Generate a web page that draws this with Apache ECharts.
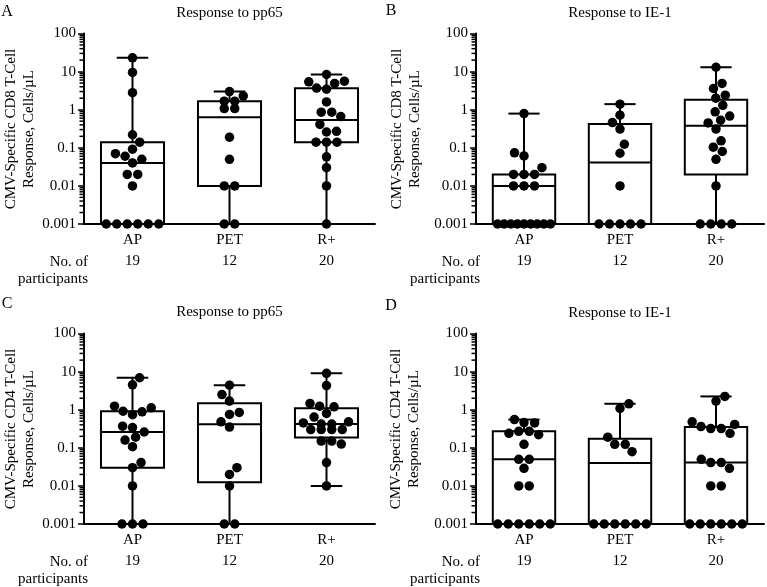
<!DOCTYPE html>
<html><head><meta charset="utf-8">
<script src="https://cdn.jsdelivr.net/npm/echarts@6/dist/echarts.min.js"></script>
<style>html,body{margin:0;padding:0;background:#fff}#c{width:767px;height:587px}</style>
</head><body><div id="c"></div>
<script>
// ---------- DATA ----------
const categories = ['AP', 'PET', 'R+'];
const yTickValues = [0.001, 0.01, 0.1, 1, 10, 100];
const yTickLabels = ['0.001', '0.01', '0.1', '1', '10', '100'];
const panelLetters = ['A', 'B', 'C', 'D'];
const panelTitles = ['Response to pp65', 'Response to IE-1', 'Response to pp65', 'Response to IE-1'];
const yAxisNames = [
  'CMV-Specific CD8 T-Cell\nResponse, Cells/\u00b5L',
  'CMV-Specific CD8 T-Cell\nResponse, Cells/\u00b5L',
  'CMV-Specific CD4 T-Cell\nResponse, Cells/\u00b5L',
  'CMV-Specific CD4 T-Cell\nResponse, Cells/\u00b5L'
];
const countCaption = 'No. of\nparticipants';

// Panel A: CD8, pp65
const cd8pp65_AP  = [23, 9.5, 2.8, 0.22, 0.14, 0.092, 0.07, 0.06, 0.05, 0.04, 0.02, 0.02, 0.01, 0.001, 0.001, 0.001, 0.001, 0.001, 0.001];
const cd8pp65_PET = [3.0, 2.3, 1.67, 1.67, 1.07, 1.07, 0.19, 0.05, 0.01, 0.01, 0.001, 0.001];
const cd8pp65_Rp  = [8.4, 5.6, 5.4, 4.9, 3.7, 3.45, 1.6, 0.86, 0.86, 0.66, 0.41, 0.27, 0.26, 0.14, 0.14, 0.14, 0.058, 0.03, 0.01, 0.001];
// Panel B: CD8, IE-1
const cd8ie1_AP  = [0.79, 0.074, 0.061, 0.03, 0.02, 0.02, 0.02, 0.01, 0.01, 0.01, 0.001, 0.001, 0.001, 0.001, 0.001, 0.001, 0.001, 0.001, 0.001];
const cd8ie1_PET = [1.4, 0.72, 0.46, 0.31, 0.124, 0.072, 0.01, 0.001, 0.001, 0.001, 0.001, 0.001];
const cd8ie1_Rp  = [13, 4.9, 3.6, 2.4, 2.0, 1.3, 0.88, 0.68, 0.53, 0.45, 0.31, 0.152, 0.104, 0.08, 0.05, 0.01, 0.001, 0.001, 0.001, 0.001];
// Panel C: CD4, pp65
const cd4pp65_AP  = [6.9, 4.5, 1.24, 1.12, 0.91, 0.88, 0.74, 0.37, 0.34, 0.26, 0.19, 0.16, 0.107, 0.041, 0.03, 0.01, 0.001, 0.001, 0.001];
const cd4pp65_PET = [4.4, 2.5, 1.68, 0.85, 0.75, 0.48, 0.35, 0.03, 0.02, 0.01, 0.001, 0.001];
const cd4pp65_Rp  = [9.0, 4.3, 1.46, 1.24, 1.19, 0.80, 0.64, 0.48, 0.45, 0.42, 0.42, 0.30, 0.30, 0.30, 0.30, 0.15, 0.15, 0.125, 0.041, 0.01];
// Panel D: CD4, IE-1
const cd4ie1_AP  = [0.55, 0.46, 0.45, 0.27, 0.27, 0.24, 0.22, 0.123, 0.05, 0.05, 0.029, 0.01, 0.01, 0.001, 0.001, 0.001, 0.001, 0.001, 0.001];
const cd4ie1_PET = [1.43, 1.08, 0.19, 0.123, 0.123, 0.079, 0.001, 0.001, 0.001, 0.001, 0.001, 0.001];
const cd4ie1_Rp  = [2.23, 1.68, 0.48, 0.41, 0.36, 0.32, 0.32, 0.24, 0.05, 0.041, 0.041, 0.029, 0.01, 0.01, 0.001, 0.001, 0.001, 0.001, 0.001, 0.001];

const panelGroups = [
  [cd8pp65_AP, cd8pp65_PET, cd8pp65_Rp],
  [cd8ie1_AP, cd8ie1_PET, cd8ie1_Rp],
  [cd4pp65_AP, cd4pp65_PET, cd4pp65_Rp],
  [cd4ie1_AP, cd4ie1_PET, cd4ie1_Rp]
];

// ---------- LAYOUT / STYLE ----------
const FONT = '"Liberation Serif", "DejaVu Serif", serif';
const INK = '#000';
const grids = [
  {left: 84, top: 33.5, width: 291, height: 190.5},
  {left: 476, top: 33.5, width: 288, height: 190.5},
  {left: 84, top: 333.5, width: 291, height: 190.5},
  {left: 476, top: 333.5, width: 288, height: 190.5}
];
const letterPos = [[7, 12], [391, 11], [7, 304], [391, 306]];
const titlePos = [[229.5, 13], [620, 13], [229.5, 312], [620, 313]];
const yNamePos = [[20, 129], [406, 129], [20, 429], [405, 429]];
const BOX_FRAC = 0.65, CAP_FRAC = 0.5, DOT_R = 4.75, SWARM_D = 10, ROW_S = 10.5;

// GraphPad-style quantile ((n+1)p, linear interpolation)
function quantile(sorted, p) {
  const n = sorted.length, h = (n + 1) * p, lo = Math.floor(h);
  if (lo < 1) return sorted[0];
  if (lo >= n) return sorted[n - 1];
  return sorted[lo - 1] + (h - lo) * (sorted[lo] - sorted[lo - 1]);
}
function boxStats(vals) {
  const s = vals.slice().sort((a, b) => a - b);
  return [s[0], quantile(s, 0.25), quantile(s, 0.5), quantile(s, 0.75), s[s.length - 1]];
}

// beeswarm in pixel space
function swarm(vals, ys, boxW) {
  const n = vals.length, xs = new Array(n).fill(null), placed = [];
  const byVal = new Map();
  vals.forEach((v, i) => { if (!byVal.has(v)) byVal.set(v, []); byVal.get(v).push(i); });
  byVal.forEach(idx => {
    if (idx.length < 2) return;
    const k = idx.length, s = Math.min(ROW_S, (boxW - 2 * DOT_R) / (k - 1));
    idx.forEach((i, j) => { xs[i] = (j - (k - 1) / 2) * s; placed.push([xs[i], ys[i]]); });
  });
  let side = 1;
  const singles = vals.map((v, i) => i).filter(i => xs[i] === null).sort((a, b) => vals[a] - vals[b]);
  singles.forEach(i => {
    const y = ys[i], cands = [0];
    placed.forEach(q => {
      const dy = Math.abs(q[1] - y);
      if (dy < SWARM_D) { const s = Math.sqrt(SWARM_D * SWARM_D - dy * dy); cands.push(q[0] + s, q[0] - s); }
    });
    cands.sort((a, b) => (Math.abs(a) - Math.abs(b)) || (b - a) * side);
    let best = null;
    for (const c of cands) {
      if (placed.every(q => Math.hypot(q[0] - c, q[1] - y) >= SWARM_D - 0.01)) { best = c; break; }
    }
    if (best === null) best = 0;
    if (best !== 0) side = best > 0 ? -1 : 1;
    xs[i] = best; placed.push([best, y]);
  });
  return xs;
}

// log minor tick values (2..9 x 10^k)
const minorVals = [];
for (let e = -3; e < 2; e++) for (let m = 2; m <= 9; m++) minorVals.push(+(m * Math.pow(10, e)).toPrecision(3));

const xAxes = [], yAxes = [], series = [], graphics = [];
panelGroups.forEach((groups, pi) => {
  const counts = groups.map(g => g.length);
  xAxes.push({
    type: 'category', gridIndex: pi, data: categories,
    axisLine: {onZero: false, lineStyle: {color: INK, width: 2}},
    axisTick: {alignWithLabel: true, length: 4, lineStyle: {color: INK, width: 1.5}},
    axisLabel: {interval: 0, color: INK, fontFamily: FONT, fontSize: 15, lineHeight: 21, margin: 6,
      formatter: (v, i) => v + '\n' + counts[i]},
    splitLine: {show: false}
  });
  yAxes.push({
    type: 'log', logBase: 10, gridIndex: pi, min: 0.001, max: 100,
    axisLine: {show: true, lineStyle: {color: INK, width: 2}},
    axisTick: {show: true, length: 6, lineStyle: {color: INK, width: 1.5}},
    axisLabel: {color: INK, fontFamily: FONT, fontSize: 15, margin: 8,
      formatter: v => {
        const k = yTickValues.findIndex(t => Math.abs(Math.log10(t) - Math.log10(v)) < 1e-6);
        return k >= 0 ? yTickLabels[k] : '';
      }},
    splitLine: {show: false}, minorTick: {show: false}
  });
  // log minor ticks, outside the y axis line
  series.push({
    type: 'custom', xAxisIndex: pi, yAxisIndex: pi, clip: false, silent: true, z: 6,
    data: minorVals.map(v => [0, v]),
    renderItem: (params, api) => {
      const pt = api.coord([0, api.value(1)]);
      const x0 = pt[0] - api.size([1, 0])[0] / 2;
      return {type: 'line', shape: {x1: x0 - 4.5, y1: pt[1], x2: x0, y2: pt[1]}, style: {stroke: INK, lineWidth: 1.5}};
    }
  });
  // boxes
  series.push({
    type: 'custom', xAxisIndex: pi, yAxisIndex: pi, clip: false, silent: true, z: 3,
    data: groups.map((g, ci) => [ci].concat(boxStats(g))),
    renderItem: (params, api) => {
      const ci = api.value(0);
      const v = [1, 2, 3, 4, 5].map(k => api.value(k));
      const cx = api.coord([ci, v[2]])[0];
      const band = api.size([1, 0])[0];
      const bw = band * BOX_FRAC, cw = bw * CAP_FRAC;
      const y = v.map(t => api.coord([ci, t])[1]);
      const st = {stroke: INK, lineWidth: 2, fill: null};
      return {type: 'group', children: [
        {type: 'rect', shape: {x: cx - bw / 2, y: y[3], width: bw, height: y[1] - y[3]}, style: {stroke: INK, lineWidth: 2, fill: 'rgba(0,0,0,0)'}},
        {type: 'line', shape: {x1: cx - bw / 2, y1: y[2], x2: cx + bw / 2, y2: y[2]}, style: st},
        {type: 'line', shape: {x1: cx, y1: y[3], x2: cx, y2: y[4]}, style: st},
        {type: 'line', shape: {x1: cx - cw / 2, y1: y[4], x2: cx + cw / 2, y2: y[4]}, style: st},
        {type: 'line', shape: {x1: cx, y1: y[1], x2: cx, y2: y[0]}, style: st},
        {type: 'line', shape: {x1: cx - cw / 2, y1: y[0], x2: cx + cw / 2, y2: y[0]}, style: st}
      ]};
    }
  });
  // dots
  const dotData = [];
  groups.forEach((g, ci) => g.forEach((v, k) => dotData.push([ci, v, k])));
  let cache = null;
  series.push({
    type: 'custom', xAxisIndex: pi, yAxisIndex: pi, clip: false, silent: true, z: 5,
    data: dotData,
    renderItem: (params, api) => {
      if (!cache) {
        const bw = api.size([1, 0])[0] * BOX_FRAC;
        cache = groups.map((g, ci) => swarm(g, g.map(v => api.coord([ci, v])[1]), bw));
      }
      const ci = api.value(0), v = api.value(1), k = api.value(2);
      const pt = api.coord([ci, v]);
      return {type: 'circle', shape: {cx: pt[0] + cache[ci][k], cy: pt[1], r: DOT_R}, style: {fill: INK}};
    }
  });
  // texts
  graphics.push({type: 'text', x: letterPos[pi][0], y: letterPos[pi][1],
    style: {text: panelLetters[pi], fill: INK, font: '16px ' + FONT, align: 'center', verticalAlign: 'middle'}});
  graphics.push({type: 'text', x: titlePos[pi][0], y: titlePos[pi][1],
    style: {text: panelTitles[pi], fill: INK, font: '15px ' + FONT, align: 'center', verticalAlign: 'middle'}});
  graphics.push({type: 'text', x: yNamePos[pi][0], y: yNamePos[pi][1], rotation: Math.PI / 2,
    style: {text: yAxisNames[pi], fill: INK, font: '15px ' + FONT, lineHeight: 18, align: 'center', verticalAlign: 'middle'}});
  const g = grids[pi];
  graphics.push({type: 'text', x: g.left + 4, y: g.top + g.height + 29.5,
    style: {text: countCaption, fill: INK, font: '15px ' + FONT, lineHeight: 17, align: 'right', verticalAlign: 'top'}});
});

const chart = echarts.init(document.getElementById('c'), null, {renderer: 'canvas'});
chart.setOption({
  backgroundColor: '#fff',
  animation: false,
  textStyle: {fontFamily: FONT},
  grid: grids.map(g => Object.assign({containLabel: false}, g)),
  xAxis: xAxes,
  yAxis: yAxes,
  series: series,
  graphic: graphics
});
</script>
</body></html>
